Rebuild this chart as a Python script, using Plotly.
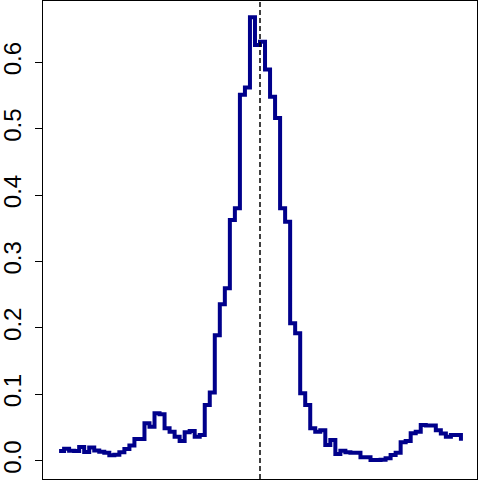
import plotly.graph_objects as go

# grid positions (step starts), -2 .. 2 by 0.05
x_vals = [round(-2 + 0.05 * i, 2) for i in range(81)]

# step heights
y_vals = [
    0.0145, 0.018, 0.015, 0.0145, 0.0205, 0.013, 0.020, 0.0155, 0.0135, 0.012,
    0.008, 0.009, 0.0125, 0.0175, 0.023, 0.0327, 0.0327, 0.0563, 0.051, 0.0714,
    0.070, 0.0488, 0.0437, 0.036, 0.0297, 0.0427, 0.0447, 0.036, 0.0387, 0.084,
    0.1025, 0.189, 0.2355, 0.2596, 0.3625, 0.380, 0.551, 0.562, 0.668, 0.626,
    0.631, 0.589, 0.548, 0.516, 0.380, 0.360, 0.207, 0.192, 0.1015, 0.084,
    0.0488, 0.0437, 0.046, 0.0236, 0.031, 0.010, 0.015, 0.0125, 0.012, 0.012,
    0.005, 0.005, 0.001, 0.001, 0.0015, 0.0036, 0.0086, 0.012, 0.0277, 0.0297,
    0.0413, 0.0437, 0.0537, 0.053, 0.053, 0.046, 0.041, 0.036, 0.0387, 0.0387,
    0.030,
]

y_ticks = [0.0, 0.1, 0.2, 0.3, 0.4, 0.5, 0.6]
y_tick_text = ["0.0", "0.1", "0.2", "0.3", "0.4", "0.5", "0.6"]
ref_x = 0.0

fig = go.Figure()
fig.add_trace(go.Scatter(x=x_vals, y=y_vals,
                         mode="lines",
                         line=dict(color="#00008B", width=4, shape="hv"),
                         showlegend=False,
                         hoverinfo="skip",
                         ))
fig.add_vline(x=ref_x, line=dict(color="black", width=1.5, dash="5px,3px"))

fig.update_layout(
    width=480,
    height=480,
    font_family="Liberation Sans",
    font_color="black",
    plot_bgcolor="white",
    paper_bgcolor="white",
    margin=dict(l=43, r=3, t=1, b=1, pad=0),
    showlegend=False,
)
fig.update_xaxes(
    range=[-2.16, 2.16],
    automargin=False,
    showgrid=False,
    zeroline=False,
    showticklabels=False,
    ticks="",
    showline=True,
    linecolor="black",
    linewidth=1,
    mirror=True,
)
fig.update_yaxes(
    range=[-0.0276, 0.6923],
    automargin=False,
    tickvals=y_ticks,
    ticktext=y_tick_text,
    tickangle=-90,
    tickfont=dict(size=24),
    ticks="outside",
    ticklen=7,
    tickwidth=1,
    tickcolor="black",
    ticklabelstandoff=4,
    showgrid=False,
    zeroline=False,
    showline=True,
    linecolor="black",
    linewidth=1,
    mirror=True,
)

# page body has a default margin; drop it so the figure sits at 0,0
fig.write_html("out.html", config={"displayModeBar": False},
               post_script="document.body.style.margin='0';")
